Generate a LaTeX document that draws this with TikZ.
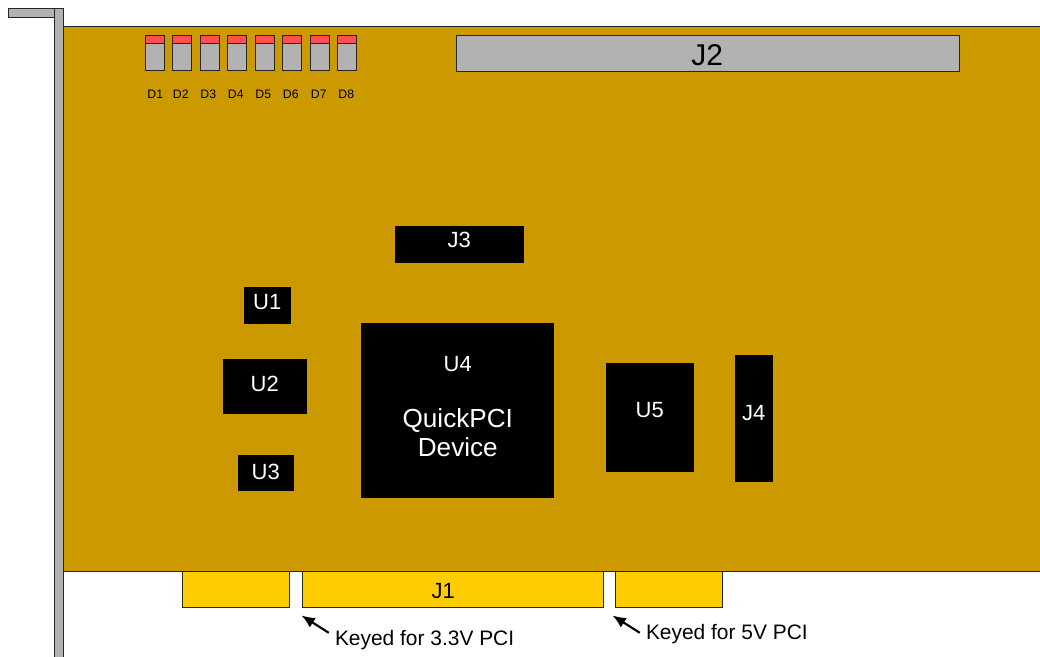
\documentclass[tikz,border=0pt]{standalone}
\usepackage{fontspec}
\usetikzlibrary{arrows.meta}
\setmainfont{Liberation Sans}
\definecolor{boardgold}{HTML}{CC9900}
\definecolor{fingergold}{HTML}{FFCC00}
\definecolor{bracketgray}{HTML}{B2B2B2}
\definecolor{ledred}{HTML}{FF5050}
\tikzset{
    chip/.style={fill=black, text=white, font=\fontsize{16.5}{20}\selectfont},
    part/.style={draw=black!85, line width=0.8pt},
    ledlabel/.style={font=\fontsize{9.2}{11}\selectfont},
    keylabel/.style={font=\fontsize{15.7}{19}\selectfont, anchor=west},
    keyarrow/.style={-{Latex[length=10pt, width=8.5pt]}, line width=1.6pt}
}
\begin{document}
\begin{tikzpicture}[x=0.75pt, y=-0.75pt]
        \useasboundingbox (0.2, 0.2) rectangle (1040.2, 657.2);
        % bracket and board
        \fill [boardgold] (64, 27) rectangle (1041, 572);
        \draw [part] (64, 27) -- (1041, 27);
        \draw [part] (64, 572) -- (1041, 572);
        \draw [part, fill=bracketgray] (9, 9) rectangle (55, 18);
        \draw [part, fill=bracketgray] (55, 658) -- (55, 9) -- (64, 9) -- (64, 658);
        % leds
        \foreach \n/\x/\lx in {1/146/155.5, 2/173/181, 3/201/208.5, 4/228/236, 5/256/263.5, 6/283/291, 7/311/319, 8/338/346.5} {
            \draw [part, fill=bracketgray] (\x, 36) rectangle (\x + 19, 71);
            \draw [part, fill=ledred] (\x, 36) rectangle (\x + 19, 44);
            \node [ledlabel] (d\n) at (\lx, 94.5) {D\n};
        }
        % connectors on top
        \draw [part, fill=bracketgray] (457, 36) rectangle (960, 72) node [midway, yshift=-0.75pt, xshift=-0.75pt, font=\fontsize{22.5}{26}\selectfont] (j2) {J2};
        \fill [chip] (395, 226) rectangle (524, 263) node [midway, yshift=3pt] (j3) {J3};
        \fill [chip] (735, 355) rectangle (773, 482) node [midway, yshift=3.75pt] (j4) {J4};
        % chips
        \fill [chip] (244, 287) rectangle (291, 324) node [midway, yshift=2.25pt] (u1) {U1};
        \fill [chip] (223, 359) rectangle (307, 414) node [midway, yshift=1.5pt] (u2) {U2};
        \fill [chip] (238, 455) rectangle (294, 491) node [midway, yshift=0.75pt] (u3) {U3};
        \fill [chip] (606, 363) rectangle (694, 472) node [midway, yshift=5.25pt] (u5) {U5};
        \fill [chip] (361, 323) rectangle (554, 498);
        \node [chip, fill=none] (u4) at (458, 364.5) {U4};
        \node [chip, fill=none, align=center, font=\fontsize{19.6}{21.8}\selectfont] (quickpci) at (458, 433) {QuickPCI\\Device};
        % pci fingers
        \draw [part, fill=fingergold] (183, 572) rectangle (290, 608);
        \draw [part, fill=fingergold] (303, 572) rectangle (604, 608) node [midway, xshift=-7.5pt, yshift=-0.75pt, font=\fontsize{16.5}{20}\selectfont] (j1) {J1};
        \draw [part, fill=fingergold] (616, 572) rectangle (723, 608);
        % keying notes
        \node [keylabel] (key33) at (330.5, 640) {Keyed for 3.3V PCI};
        \node [keylabel] (key5) at (641.5, 634) {Keyed for 5V PCI};
        \coordinate (gap33) at (301.7, 615.7);
        \coordinate (gap5) at (612.7, 615.7);
        \draw [keyarrow] (key33.west) ++(-1.5, -7) -- (gap33);
        \draw [keyarrow] (key5.west) ++(-1.5, -1) -- (gap5);
    \end{tikzpicture}
\end{document}
